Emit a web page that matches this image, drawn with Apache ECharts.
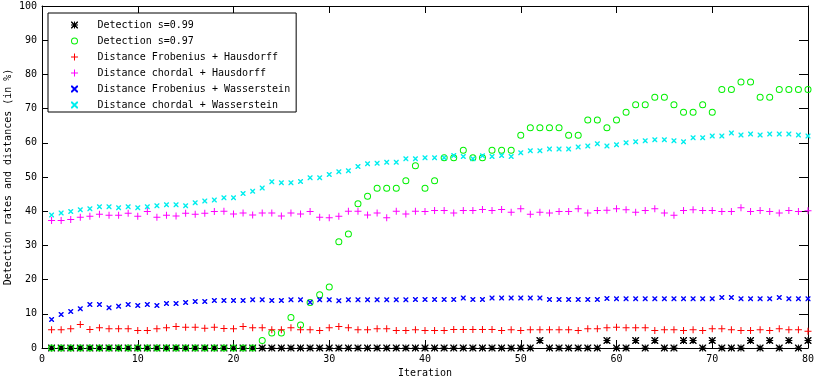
<!DOCTYPE html>
<html>
<head>
<meta charset="utf-8">
<script src="https://cdn.jsdelivr.net/npm/echarts@6/dist/echarts.min.js"></script>
<style>
  html, body { margin: 0; padding: 0; background: #fff; }
  #chart { width: 815px; height: 381px; }
</style>
</head>
<body>
<div id="chart"></div>
<script>
// iteration numbers (x)
const iterations = [1, 2, 3, 4, 5, 6, 7, 8, 9, 10, 11, 12, 13, 14, 15, 16, 17, 18, 19, 20,
  21, 22, 23, 24, 25, 26, 27, 28, 29, 30, 31, 32, 33, 34, 35, 36, 37, 38, 39, 40,
  41, 42, 43, 44, 45, 46, 47, 48, 49, 50, 51, 52, 53, 54, 55, 56, 57, 58, 59, 60,
  61, 62, 63, 64, 65, 66, 67, 68, 69, 70, 71, 72, 73, 74, 75, 76, 77, 78, 79, 80]

const seriesNames = [
  'Detection s=0.99',
  'Detection s=0.97',
  'Distance Frobenius + Hausdorff',
  'Distance chordal + Hausdorff',
  'Distance Frobenius + Wasserstein',
  'Distance chordal + Wasserstein'
]

const yTicks = [0, 10, 20, 30, 40, 50, 60, 70, 80, 90, 100]
const xTicks = [0, 10, 20, 30, 40, 50, 60, 70, 80]

const detect099 = [0, 0, 0, 0, 0, 0, 0, 0, 0, 0, 0, 0, 0, 0, 0, 0, 0, 0, 0, 0,
  0, 0, 0, 0, 0, 0, 0, 0, 0, 0, 0, 0, 0, 0, 0, 0, 0, 0, 0, 0,
  0, 0, 0, 0, 0, 0, 0, 0, 0, 0, 0, 2.2, 0, 0, 0, 0, 0, 0, 2.2, 0,
  0, 2.2, 0, 2.2, 0, 0, 2.2, 2.2, 0, 2.2, 0, 0, 0, 2.2, 0, 2.2, 0, 2.2, 0, 2.2]

const detect097 = [0, 0, 0, 0, 0, 0, 0, 0, 0, 0, 0, 0, 0, 0, 0, 0, 0, 0, 0, 0,
  0, 0, 2.2, 4.4, 4.4, 8.9, 6.7, 13.3, 15.6, 17.8, 31.1, 33.3, 42.2, 44.4, 46.7, 46.7, 46.7, 48.9, 53.3, 46.7,
  48.9, 55.6, 55.6, 57.8, 55.6, 55.6, 57.8, 57.8, 57.8, 62.2, 64.4, 64.4, 64.4, 64.4, 62.2, 62.2, 66.7, 66.7, 64.4, 66.7,
  68.9, 71.1, 71.1, 73.3, 73.3, 71.1, 68.9, 68.9, 71.1, 68.9, 75.6, 75.6, 77.8, 77.8, 73.3, 73.3, 75.6, 75.6, 75.6, 75.6]

const frobHausdorff = [5.3, 5.3, 5.6, 6.9, 5.4, 5.9, 5.6, 5.6, 5.6, 5.1, 5.1, 5.6, 5.9, 6.3, 6.1, 6.1, 5.8, 6.1, 5.7, 5.6,
  6.3, 5.9, 5.9, 5.3, 5.3, 5.9, 5.3, 5.3, 5.1, 5.9, 6.3, 5.9, 5.3, 5.3, 5.6, 5.6, 5.1, 5.1, 5.3, 5.1,
  5.1, 5.1, 5.4, 5.4, 5.4, 5.4, 5.4, 5.1, 5.3, 5.1, 5.3, 5.3, 5.3, 5.3, 5.3, 5.1, 5.6, 5.6, 5.9, 6.1,
  5.9, 5.9, 5.9, 5.1, 5.3, 5.3, 5.1, 5.3, 5.1, 5.6, 5.6, 5.3, 5.1, 5.1, 5.3, 5.1, 5.6, 5.3, 5.3, 4.9]

const chordHausdorff = [37.3, 37.3, 37.6, 38.2, 38.5, 39.1, 38.8, 38.8, 39.4, 38.5, 39.9, 38.2, 38.8, 38.6, 39.4, 39.1, 39.4, 39.9, 40.0, 39.2,
  39.5, 38.9, 39.5, 39.5, 38.6, 39.5, 39.2, 39.9, 38.2, 38.1, 38.5, 40.0, 40.0, 38.9, 39.5, 38.1, 40.0, 39.2, 40.0, 39.9,
  40.2, 40.2, 39.5, 40.2, 40.2, 40.5, 40.2, 40.5, 39.7, 40.7, 39.1, 39.7, 39.5, 39.9, 39.9, 40.7, 39.5, 40.2, 40.3, 40.7,
  40.4, 39.7, 40.2, 40.7, 39.5, 38.8, 40.2, 40.4, 40.2, 40.2, 39.9, 39.9, 41.0, 39.9, 40.2, 39.9, 39.5, 40.2, 39.9, 40.1]

const frobWasserstein = [8.3, 9.8, 10.7, 11.5, 12.7, 12.7, 11.8, 12.2, 12.7, 12.4, 12.7, 12.4, 13.0, 13.0, 13.3, 13.6, 13.6, 13.9, 13.9, 13.9,
  13.9, 14.1, 14.1, 13.9, 13.9, 14.1, 14.1, 13.4, 14.1, 14.1, 13.8, 14.1, 14.1, 14.1, 14.1, 14.1, 14.1, 14.1, 14.2, 14.2,
  14.2, 14.2, 14.2, 14.6, 14.2, 14.2, 14.6, 14.6, 14.6, 14.6, 14.6, 14.6, 14.2, 14.2, 14.2, 14.2, 14.2, 14.2, 14.5, 14.4,
  14.4, 14.4, 14.4, 14.4, 14.4, 14.4, 14.4, 14.4, 14.4, 14.4, 14.8, 14.8, 14.4, 14.4, 14.4, 14.4, 14.8, 14.4, 14.4, 14.4]

const chordWasserstein = [38.9, 39.5, 39.9, 40.4, 40.7, 41.3, 41.3, 41.0, 41.3, 41.0, 41.3, 41.6, 41.9, 41.9, 41.6, 42.5, 43.0, 43.3, 43.9, 43.9,
  45.2, 45.8, 46.8, 48.6, 48.3, 48.3, 48.7, 49.8, 49.8, 50.7, 51.5, 51.8, 53.1, 53.9, 54.0, 54.3, 54.3, 55.3, 55.3, 55.6,
  55.6, 55.6, 56.3, 56.0, 55.3, 56.2, 56.0, 56.3, 56.0, 57.1, 57.7, 57.7, 58.2, 58.2, 58.2, 58.8, 59.1, 59.7, 59.1, 59.4,
  60.0, 60.3, 60.6, 60.9, 60.9, 60.6, 60.3, 61.5, 61.5, 62.0, 62.0, 62.9, 62.3, 62.6, 62.3, 62.6, 62.6, 62.6, 62.3, 62.0]

const FONT = 'DejaVu Sans Mono'

// gnuplot-like point shapes
const SYM_PLUS = 'path://M0,3h7v1h-7zM3,0h1v7h-1z'
const SYM_CROSS = 'path://M0,0L1,0L5,4L5,5L4,5L0,1ZM5,0L5,1L1,5L0,5L0,4L4,0Z'
const SYM_STAR = 'path://M0,3h7v1h-7zM3,0h1v7h-1zM0,0L1,0L7,6L7,7L6,7L0,1ZM7,0L7,1L1,7L0,7L0,6L6,0Z'
const SYM_RING = 'path://M0,3.5A3.5,3.5 0 1,1 7,3.5A3.5,3.5 0 1,1 0,3.5ZM1,3.5A2.5,2.5 0 1,0 6,3.5A2.5,2.5 0 1,0 1,3.5Z'

function pairs(values) {
  return values.map((v, i) => [iterations[i], v])
}

function makeSeries(name, values, symbol, size, color) {
  return {
    name: name,
    type: 'scatter',
    data: pairs(values),
    symbol: symbol,
    symbolSize: size,
    clip: false,
    itemStyle: { color: color, opacity: 1 },
    emphasis: { disabled: true }
  }
}

const chart = echarts.init(document.getElementById('chart'), null, { renderer: 'canvas' })

const axisBase = {
  type: 'value',
  splitLine: { show: false },
  axisLine: { show: true, onZero: false, lineStyle: { color: '#000', width: 1 } }
}

chart.setOption({
  animation: false,
  backgroundColor: '#fff',
  textStyle: { fontFamily: FONT, fontSize: 10, color: '#000' },
  grid: { left: 42, right: 7, top: 6, bottom: 33, outerBoundsMode: 'none', containLabel: false },
  legend: {
    orient: 'vertical',
    left: 48,
    top: 13,
    padding: [6, 6, 1, 23],
    itemGap: 4,
    itemWidth: 36,
    itemHeight: 7,
    symbolKeepAspect: true,
    backgroundColor: '#fff',
    borderColor: '#000',
    borderWidth: 1,
    borderRadius: 0,
    selectedMode: false,
    textStyle: { fontFamily: FONT, fontSize: 10, color: '#000', lineHeight: 12 },
    data: seriesNames
  },
  xAxis: [
    Object.assign({}, axisBase, {
      position: 'bottom',
      min: xTicks[0],
      max: xTicks[xTicks.length - 1],
      interval: 10,
      name: 'Iteration',
      nameLocation: 'middle',
      nameGap: 20,
      nameMoveOverlap: false,
      nameTextStyle: { fontFamily: FONT, fontSize: 10, color: '#000' },
      axisTick: { show: true, inside: true, length: 8, lineStyle: { color: '#000' } },
      axisLabel: { margin: 6, color: '#000', fontFamily: FONT, fontSize: 10 }
    }),
    Object.assign({}, axisBase, {
      position: 'top',
      min: xTicks[0],
      max: xTicks[xTicks.length - 1],
      interval: 10,
      axisTick: { show: true, inside: true, length: 7, lineStyle: { color: '#000' } },
      axisLabel: { show: false }
    })
  ],
  yAxis: [
    Object.assign({}, axisBase, {
      position: 'left',
      min: yTicks[0],
      max: yTicks[yTicks.length - 1],
      interval: 10,
      name: 'Detection rates and distances (in %)',
      nameLocation: 'middle',
      nameGap: 29,
      nameMoveOverlap: false,
      nameTextStyle: { fontFamily: FONT, fontSize: 10, color: '#000' },
      axisTick: { show: true, inside: true, length: 6, lineStyle: { color: '#000' } },
      axisLabel: { margin: 5, color: '#000', fontFamily: FONT, fontSize: 10 }
    }),
    Object.assign({}, axisBase, {
      position: 'right',
      min: yTicks[0],
      max: yTicks[yTicks.length - 1],
      interval: 10,
      axisTick: { show: true, inside: true, length: 9, lineStyle: { color: '#000' } },
      axisLabel: { show: false }
    })
  ],
  series: [
    makeSeries(seriesNames[0], detect099, SYM_STAR, 7, '#000000'),
    makeSeries(seriesNames[1], detect097, SYM_RING, 7, '#00f000'),
    makeSeries(seriesNames[2], frobHausdorff, SYM_PLUS, 7, '#ff0000'),
    makeSeries(seriesNames[3], chordHausdorff, SYM_PLUS, 7, '#ff00ff'),
    makeSeries(seriesNames[4], frobWasserstein, SYM_CROSS, 5, '#0000ff'),
    makeSeries(seriesNames[5], chordWasserstein, SYM_CROSS, 5, '#00eeee')
  ]
})
</script>
</body>
</html>
